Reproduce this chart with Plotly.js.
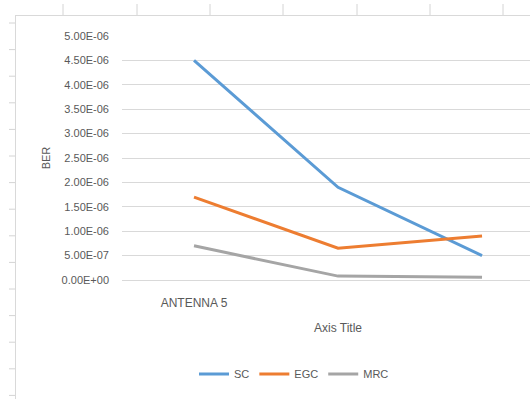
<!DOCTYPE html>
<html><head><meta charset="utf-8">
<script src="https://cdn.plot.ly/plotly-3.0.1.min.js"></script>
<style>html,body{margin:0;padding:0;background:#fff}#chart{width:530px;height:399px}</style>
</head><body><div id="chart"></div>
<script>
const categories = ["ANTENNA 5", "", ""];
const xIndex = [0, 1, 2];
const sc  = [4.5e-6, 1.9e-6, 5.0e-7];
const egc = [1.7e-6, 6.5e-7, 9.0e-7];
const mrc = [7.0e-7, 8.0e-8, 5.5e-8];
const yTickVals = [0, 5e-7, 1e-6, 1.5e-6, 2e-6, 2.5e-6, 3e-6, 3.5e-6, 4e-6, 4.5e-6, 5e-6];
const yTickText = ["0.00E+00","5.00E-07","1.00E-06","1.50E-06","2.00E-06","2.50E-06","3.00E-06","3.50E-06","4.00E-06","4.50E-06","5.00E-06"];

const W = 530, H = 399, L = 122, R = 0, T = 36, B = 119;
const pw = W - L - R, ph = H - T - B;
const px = v => (v - L) / pw;
const py = v => (H - B - v) / ph;
const grey = '#595959';
const font = {family: 'Liberation Sans, Arial, sans-serif', size: 11, color: grey};
const xfont = {family: font.family, size: 12, color: grey};

const shapes = [];
const sheetLine = {color: '#D4D4D4', width: 1};
[63, 137, 210, 283, 357, 430, 503].forEach(x => shapes.push({type:'line', xref:'paper', yref:'paper', x0:px(x), x1:px(x), y0:py(4), y1:py(15), line:sheetLine}));
for (let y = 23; y < H; y += 26.6) shapes.push({type:'line', xref:'paper', yref:'paper', x0:px(9), x1:px(15), y0:py(y), y1:py(y), line:sheetLine});
shapes.push({type:'line', xref:'paper', yref:'paper', x0:px(15), x1:px(W), y0:py(15.5), y1:py(15.5), line:{color:'#D9D9D9', width:1}});
shapes.push({type:'line', xref:'paper', yref:'paper', x0:px(15.5), x1:px(15.5), y0:py(15), y1:py(H), line:{color:'#D9D9D9', width:1}});

const mk = (name, y, color) => ({x: xIndex, y: y, name: name, type: 'scatter', mode: 'lines', line: {color: color, width: 3}});
const data = [mk('SC', sc, '#5B9BD5'), mk('EGC', egc, '#ED7D31'), mk('MRC', mrc, '#A5A5A5')];

const layout = {
  width: W, height: H,
  margin: {l: L, r: R, t: T, b: B, pad: 0},
  paper_bgcolor: '#fff', plot_bgcolor: '#fff',
  font: font,
  showlegend: true,
  legend: {orientation: 'h', x: px(294), xanchor: 'center', y: py(374), yanchor: 'middle', font: font, itemwidth: 30, tracegroupgap: 0},
  xaxis: {range: [-0.5, 2.333], tickmode: 'array', tickvals: xIndex, ticktext: categories, showgrid: false, zeroline: false,
          showline: true, linecolor: '#D9D9D9', linewidth: 1, ticks: '', ticklabelstandoff: 12, tickfont: xfont, fixedrange: true},
  yaxis: {range: [0, 5e-6], tickmode: 'array', tickvals: yTickVals, ticktext: yTickText, showgrid: true, gridcolor: '#D9D9D9', gridwidth: 1,
          zeroline: false, showline: false, ticks: '', ticklabelstandoff: 12, tickfont: font, automargin: false,
          title: {text: 'BER', font: font, standoff: 8}},
  annotations: [{text: 'Axis Title', xref: 'x', yref: 'paper', x: 1, y: py(328), xanchor: 'center', yanchor: 'middle', showarrow: false, font: {family: font.family, size: 12, color: grey}}],
  shapes: shapes
};
Plotly.newPlot('chart', data, layout, {displayModeBar: false, staticPlot: true});
</script></body></html>
